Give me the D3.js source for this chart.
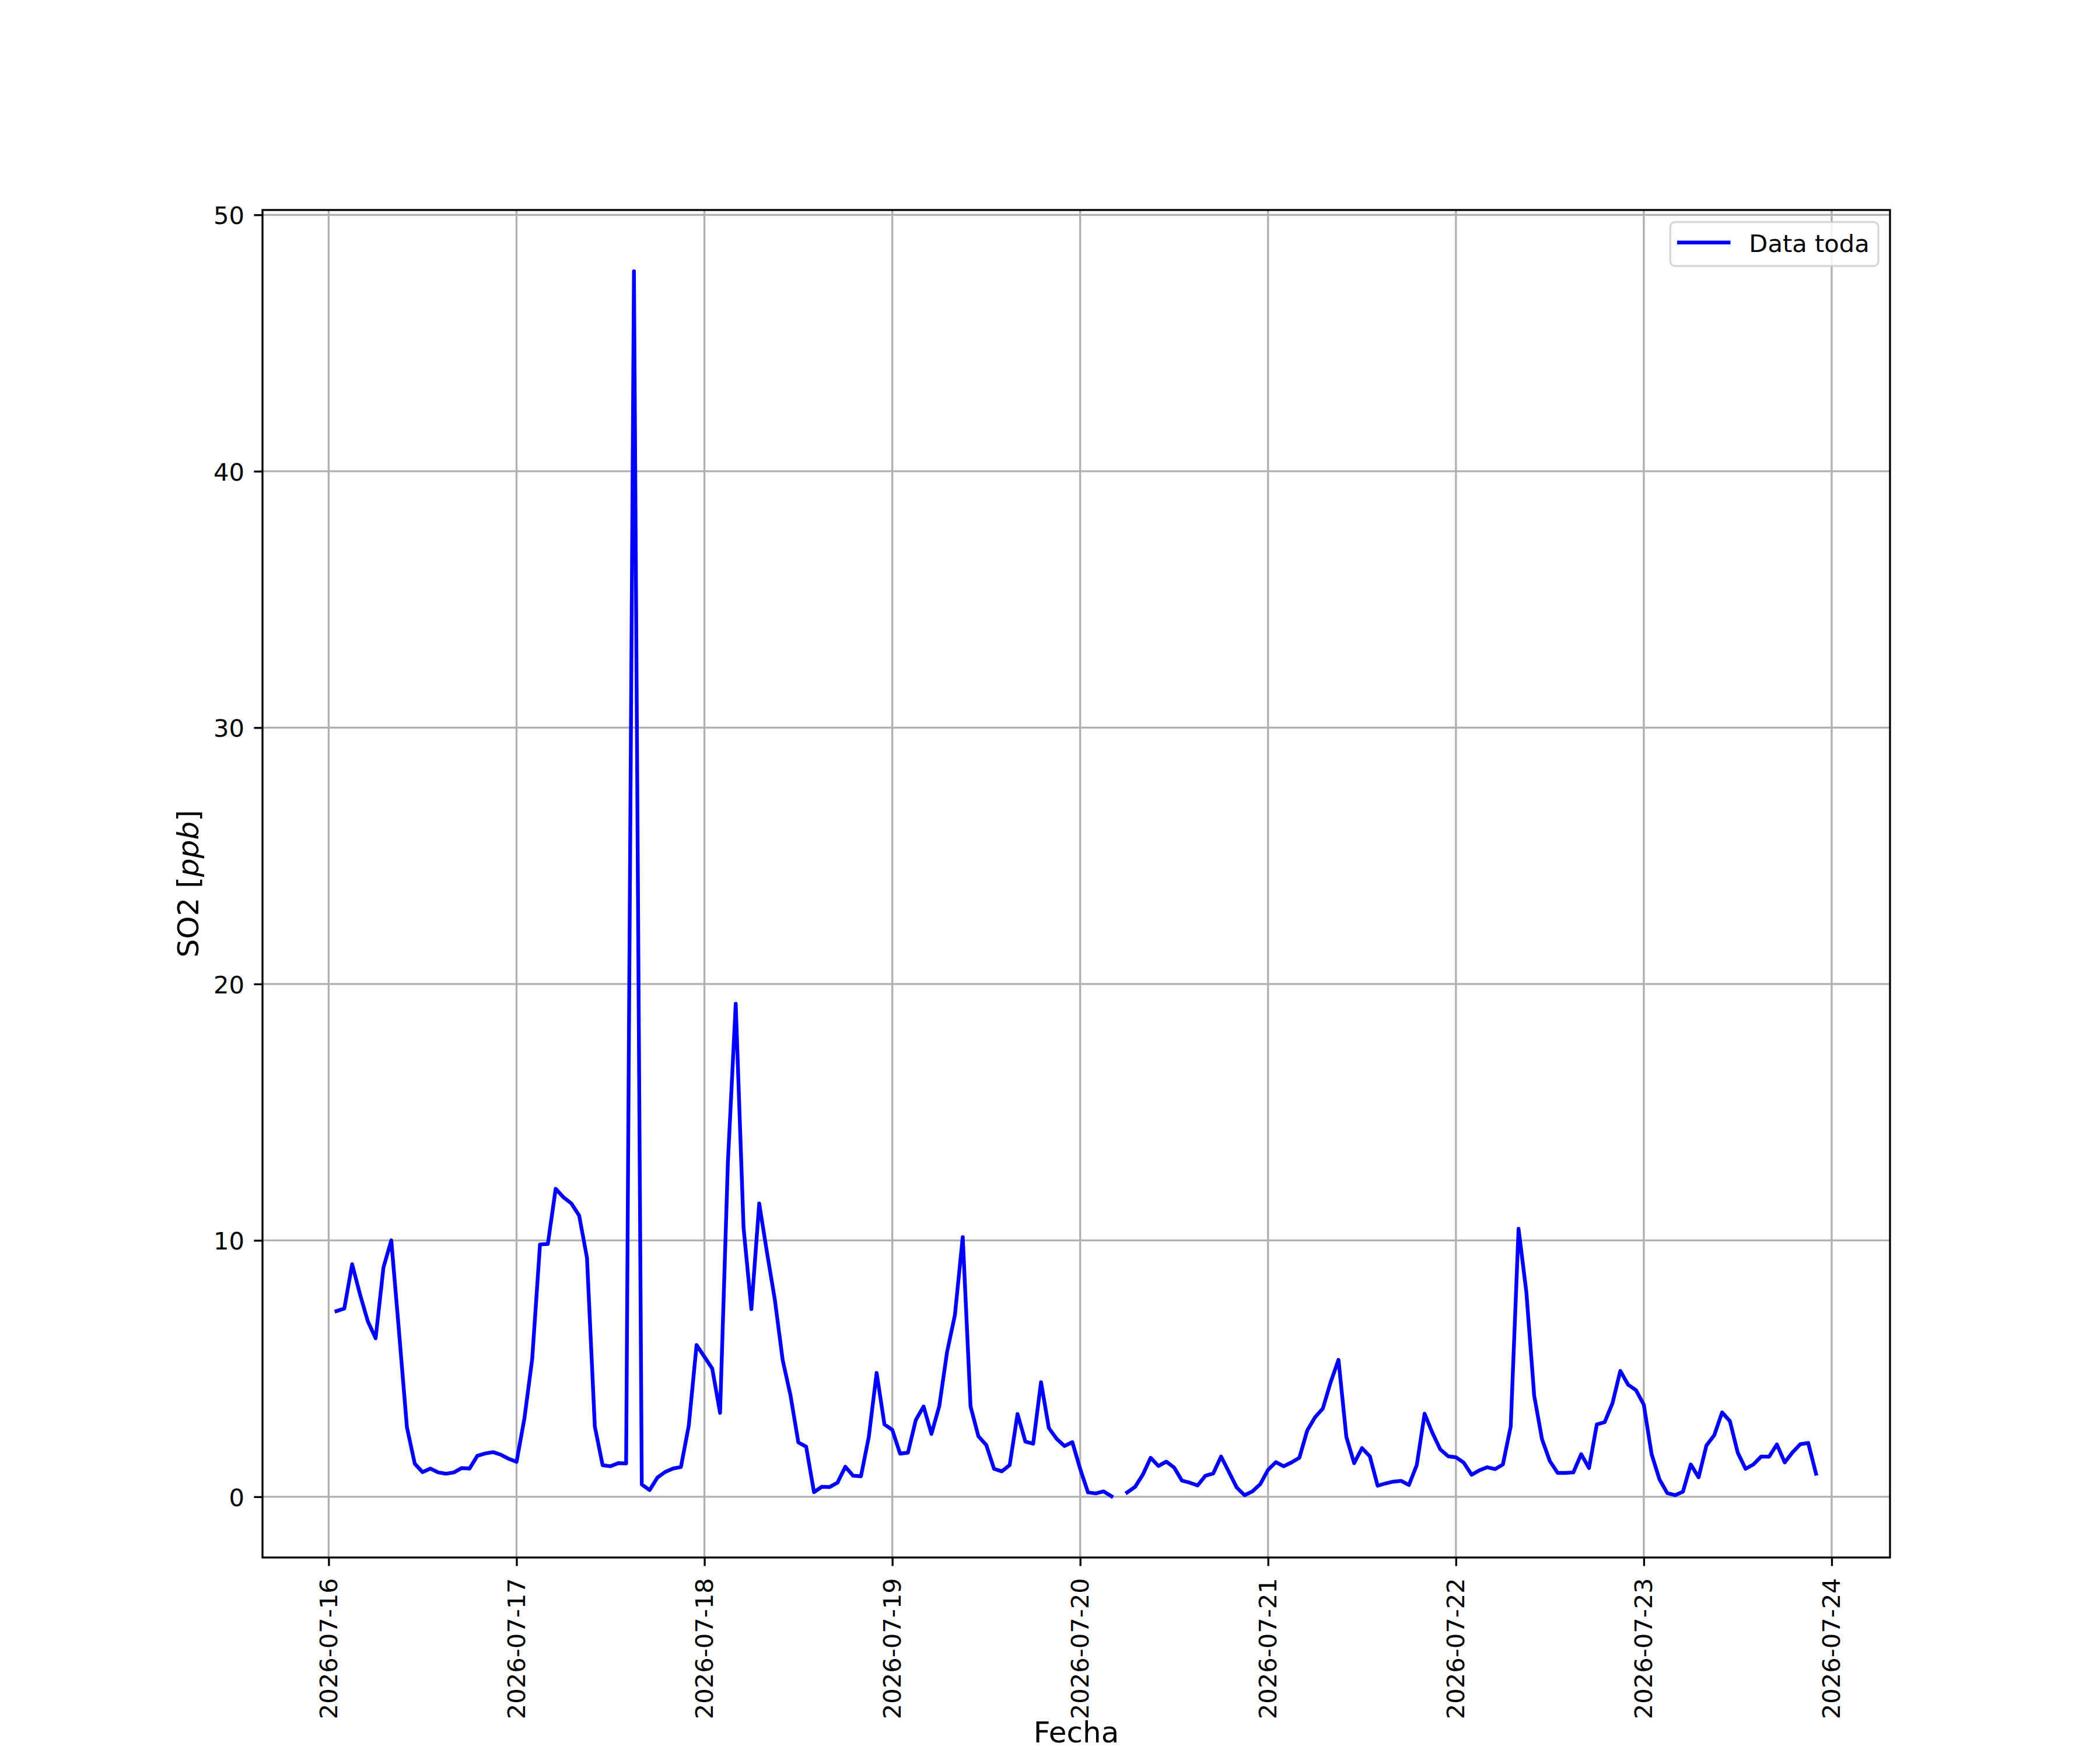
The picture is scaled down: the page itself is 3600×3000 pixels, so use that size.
<!DOCTYPE html>
<html>
<head>
<meta charset="utf-8">
<script src="https://cdn.jsdelivr.net/npm/d3@7"></script>
<style>
  html, body { margin: 0; padding: 0; background: #fff; }
  svg { display: block; }
  text { font-family: "DejaVu Sans", sans-serif; fill: #000; }
</style>
</head>
<body>
<div id="chart"></div>
<script>
// hourly SO2 readings, first one at 2026-07-16 01:00 (null = no reading)
var firstHour = '2026-07-16T01:00';
var so2 = [
  7.24, 7.34, 9.07, 7.90, 6.85, 6.18, 8.94, 10.0, 6.40, 2.71, 1.29, 0.96,
  1.10, 0.95, 0.90, 0.95, 1.12, 1.10, 1.60, 1.69, 1.74, 1.64, 1.48, 1.36,
  3.04, 5.37, 9.84, 9.86, 12.01, 11.68, 11.44, 10.97, 9.32, 2.74, 1.23, 1.19,
  1.31, 1.30, 47.8, 0.48, 0.26, 0.75, 0.97, 1.10, 1.16, 2.77, 5.92, 5.46,
  5.00, 3.27, 13.05, 19.23, 10.5, 7.32, 11.44, 9.52, 7.68, 5.33, 3.95, 2.12,
  1.95, 0.18, 0.39, 0.38, 0.55, 1.17, 0.82, 0.80, 2.34, 4.83, 2.82, 2.61,
  1.68, 1.72, 2.99, 3.52, 2.45, 3.53, 5.65, 7.09, 10.13, 3.52, 2.36, 2.02,
  1.09, 0.99, 1.24, 3.23, 2.15, 2.07, 4.47, 2.68, 2.26, 1.98, 2.13, 1.09,
  0.17, 0.13, 0.21, 0.02, null, 0.17, 0.38, 0.86, 1.52, 1.20, 1.37, 1.14,
  0.63, 0.55, 0.44, 0.82, 0.91, 1.57, 0.97, 0.36, 0.06, 0.21, 0.49, 1.05,
  1.35, 1.19, 1.34, 1.52, 2.58, 3.10, 3.44, 4.47, 5.34, 2.34, 1.31, 1.90,
  1.58, 0.43, 0.52, 0.59, 0.62, 0.46, 1.24, 3.24, 2.49, 1.85, 1.58, 1.54,
  1.33, 0.86, 1.03, 1.15, 1.08, 1.26, 2.74, 10.45, 7.98, 3.94, 2.24, 1.39,
  0.93, 0.93, 0.95, 1.66, 1.12, 2.82, 2.91, 3.65, 4.91, 4.37, 4.16, 3.59,
  1.66, 0.68, 0.14, 0.06, 0.20, 1.26, 0.76, 2.00, 2.40, 3.29, 2.95, 1.72,
  1.09, 1.26, 1.57, 1.56, 2.04, 1.34, 1.73, 2.05, 2.10, 0.90
];
var xTickLabels = ['2026-07-16', '2026-07-17', '2026-07-18', '2026-07-19', '2026-07-20',
  '2026-07-21', '2026-07-22', '2026-07-23', '2026-07-24'];
var yTicks = [0, 10, 20, 30, 40, 50];
var seriesName = 'Data toda';
var xTitle = 'Fecha';

(function () {
  var width = 3600;
  var height = 3000;
  var pt = 300 / 72;
  var margin = {left: 450, right: 360, top: 360, bottom: 330};
  var plotW = width - margin.left - margin.right;
  var plotH = height - margin.top - margin.bottom;
  var tickLen = 3.5 * pt;
  var tickPad = 3.5 * pt;
  var fontSize = 10 * pt;
  var labelSize = 12 * pt;

  var start = d3.utcParse('%Y-%m-%dT%H:%M')(firstHour);
  var parseDay = d3.utcParse('%Y-%m-%d');
  var data = so2.map(function (v, i) {
    return {t: d3.utcHour.offset(start, i), v: v};
  });

  // matplotlib style 5% margins on both axes
  var tExt = d3.extent(data, function (d) { return d.t; });
  var tSpan = tExt[1] - tExt[0];
  var vExt = d3.extent(data, function (d) { return d.v; });
  var vSpan = vExt[1] - vExt[0];

  var x = d3.scaleUtc()
      .domain([new Date(+tExt[0] - 0.05 * tSpan), new Date(+tExt[1] + 0.05 * tSpan)])
      .range([0, plotW]);
  var y = d3.scaleLinear()
      .domain([vExt[0] - 0.05 * vSpan, vExt[1] + 0.05 * vSpan])
      .range([plotH, 0]);

  var xTicks = xTickLabels.map(function (s) { return parseDay(s); });

  var svg = d3.select('#chart').append('svg')
      .attr('width', width)
      .attr('height', height);
  svg.append('rect').attr('width', width).attr('height', height).attr('fill', '#fff');

  var g = svg.append('g').attr('transform', 'translate(' + margin.left + ',' + margin.top + ')');

  // grid
  g.append('g').selectAll('line.vgrid').data(xTicks).enter().append('line')
      .attr('class', 'vgrid')
      .attr('x1', function (d) { return x(d); })
      .attr('x2', function (d) { return x(d); })
      .attr('y1', 0)
      .attr('y2', plotH)
      .attr('stroke', '#b0b0b0')
      .attr('stroke-width', 0.8 * pt);
  g.append('g').selectAll('line.hgrid').data(yTicks).enter().append('line')
      .attr('class', 'hgrid')
      .attr('x1', 0)
      .attr('x2', plotW)
      .attr('y1', function (d) { return y(d); })
      .attr('y2', function (d) { return y(d); })
      .attr('stroke', '#b0b0b0')
      .attr('stroke-width', 0.8 * pt);

  // series
  var line = d3.line()
      .defined(function (d) { return d.v !== null; })
      .x(function (d) { return x(d.t); })
      .y(function (d) { return y(d.v); });
  g.append('path')
      .datum(data)
      .attr('d', line)
      .attr('fill', 'none')
      .attr('stroke', '#0000ff')
      .attr('stroke-width', 1.55 * pt)
      .attr('stroke-linejoin', 'round')
      .attr('stroke-linecap', 'square');

  // axes
  var xAxis = d3.axisBottom(x).tickValues(xTicks).tickSize(tickLen).tickPadding(tickPad)
      .tickFormat(d3.utcFormat('%Y-%m-%d'));
  var xg = g.append('g').attr('transform', 'translate(0,' + plotH + ')').call(xAxis);
  xg.select('.domain').remove();
  xg.selectAll('.tick line').attr('stroke', '#000').attr('stroke-width', 0.8 * pt);
  xg.selectAll('.tick text')
      .attr('font-size', fontSize)
      .attr('font-family', '"DejaVu Sans", sans-serif')
      .attr('fill', '#000')
      .attr('transform', 'rotate(-90)')
      .attr('x', -(tickLen + tickPad + 6))
      .attr('y', 0)
      .attr('dy', '0.33em')
      .attr('text-anchor', 'end');

  var yAxis = d3.axisLeft(y).tickValues(yTicks).tickSize(tickLen).tickPadding(tickPad)
      .tickFormat(d3.format('d'));
  var yg = g.append('g').call(yAxis);
  yg.select('.domain').remove();
  yg.selectAll('.tick line').attr('stroke', '#000').attr('stroke-width', 0.8 * pt);
  yg.selectAll('.tick text')
      .attr('font-size', fontSize)
      .attr('font-family', '"DejaVu Sans", sans-serif')
      .attr('fill', '#000')
      .attr('x', -31)
      .attr('dy', '0.37em');

  // spines
  g.append('rect')
      .attr('x', 0)
      .attr('y', 0)
      .attr('width', plotW)
      .attr('height', plotH)
      .attr('fill', 'none')
      .attr('stroke', '#000')
      .attr('stroke-width', 0.8 * pt);

  // axis titles
  svg.append('text')
      .attr('x', margin.left + plotW / 2)
      .attr('y', 2987)
      .attr('text-anchor', 'middle')
      .attr('font-size', labelSize)
      .text(xTitle);

  var yl = svg.append('text')
      .attr('transform', 'translate(340,' + (margin.top + plotH / 2) + ') rotate(-90)')
      .attr('text-anchor', 'middle')
      .attr('font-size', labelSize);
  yl.append('tspan').text('SO2 [');
  yl.append('tspan').attr('font-style', 'italic').text('ppb');
  yl.append('tspan').text(']');

  // legend, upper right
  var legend = svg.append('g').attr('transform', 'translate(2863.3,380.7)');
  legend.append('rect')
      .attr('width', 356.7)
      .attr('height', 75.3)
      .attr('rx', 8)
      .attr('ry', 8)
      .attr('fill', '#fff')
      .attr('fill-opacity', 0.8)
      .attr('stroke', '#cccccc')
      .attr('stroke-opacity', 0.8)
      .attr('stroke-width', 0.8 * pt);
  legend.append('line')
      .attr('x1', 15)
      .attr('x2', 100)
      .attr('y1', 35)
      .attr('y2', 35)
      .attr('stroke', '#0000ff')
      .attr('stroke-width', 1.55 * pt)
      .attr('stroke-linecap', 'square');
  legend.append('text')
      .attr('x', 135)
      .attr('y', 51)
      .attr('font-size', fontSize)
      .text(seriesName);
})();
</script>
</body>
</html>
